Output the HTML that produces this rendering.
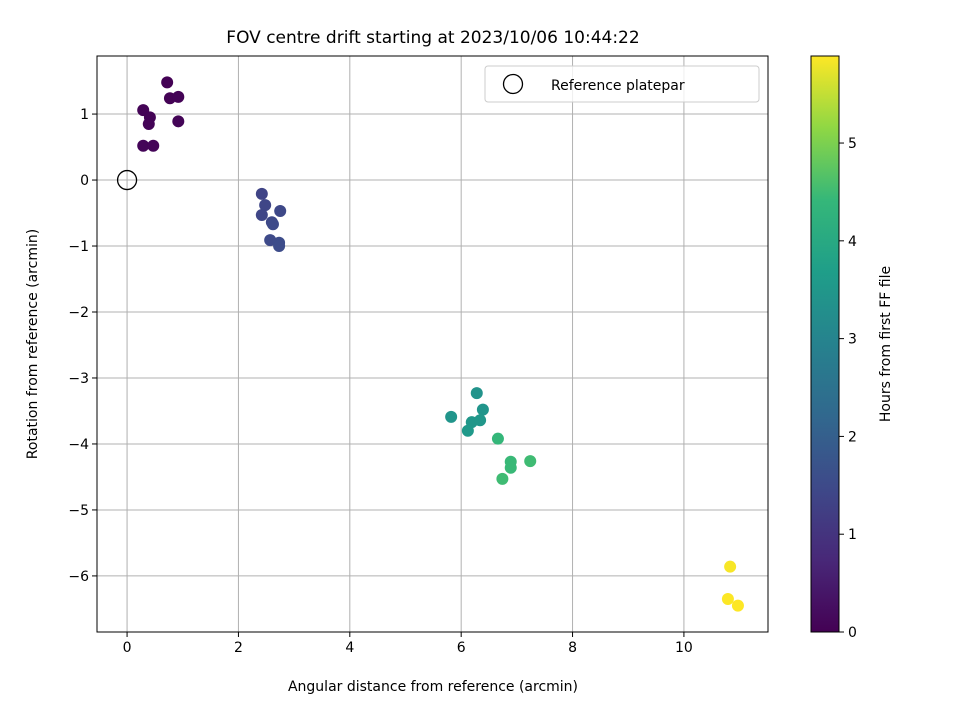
<!DOCTYPE html>
<html><head><meta charset="utf-8"><style>
body{margin:0;background:#fff;font-family:"Liberation Sans","DejaVu Sans",sans-serif}
text{font-family:"DejaVu Sans","Liberation Sans",sans-serif;fill:#000}
</style></head><body>
<svg id="chart" width="960" height="720" xmlns="http://www.w3.org/2000/svg">
<defs><linearGradient id="vir" x1="0" y1="1" x2="0" y2="0"></linearGradient></defs>
<rect width="960" height="720" fill="#fff"/>
<text x="433" y="43" text-anchor="middle" font-size="17">FOV centre drift starting at 2023/10/06 10:44:22</text>
<g id="grid"></g>
<g id="pts"></g>
<rect x="97" y="56" width="671" height="576" fill="none" stroke="#000" stroke-width="1"/>
<g id="axes"></g>
<text x="433" y="691" text-anchor="middle" font-size="14">Angular distance from reference (arcmin)</text>
<text transform="translate(37,344) rotate(-90)" text-anchor="middle" font-size="14">Rotation from reference (arcmin)</text>
<g>
<rect x="485" y="66" width="274" height="36" rx="3" fill="#fff" fill-opacity="0.8" stroke="#ccc"/>
<circle cx="513" cy="84" r="9.5" fill="none" stroke="#000" stroke-width="1.3"/>
<text x="551" y="90" font-size="14">Reference platepar</text>
</g>
<g id="cbar"></g>
<text transform="translate(890,344) rotate(-90)" text-anchor="middle" font-size="14">Hours from first FF file</text>
</svg>
<script>
const xs=[0.72,0.29,0.41,0.77,0.92,0.39,0.92,0.29,0.47, 2.42,2.48,2.42,2.75,2.6,2.62,2.57,2.73,2.73, 6.28,6.39,5.82,6.19,6.34,6.12, 6.66,6.89,6.89,7.24,6.74, 10.83,10.79,10.97];
const ys=[1.48,1.06,0.95,1.24,1.26,0.85,0.89,0.52,0.52, -0.21,-0.38,-0.53,-0.47,-0.64,-0.67,-0.91,-0.95,-1.0, -3.23,-3.48,-3.59,-3.67,-3.64,-3.8, -3.92,-4.27,-4.36,-4.26,-4.53, -5.86,-6.35,-6.45];
const hours=[0.02,0.05,0.05,0.03,0.04,0.06,0.07,0.08,0.08, 1.35,1.4,1.4,1.45,1.45,1.5,1.5,1.55,1.55, 3.4,3.45,3.45,3.5,3.5,3.55, 4.4,4.45,4.45,4.5,4.5, 5.85,5.88,5.89];
const xTicks=[0,2,4,6,8,10];
const yTicks=[1,0,-1,-2,-3,-4,-5,-6];
const cTicks=[0,1,2,3,4,5];
const NS="http://www.w3.org/2000/svg";
const X0=97,X1=768,Y0=56,Y1=632,xmin=-0.54,xmax=11.51,ymin=-6.85,ymax=1.88,cmax=5.89;
const sx=v=>X0+(v-xmin)/(xmax-xmin)*(X1-X0);
const sy=v=>Y1-(v-ymin)/(ymax-ymin)*(Y1-Y0);
const sc=v=>Y1-v/cmax*(Y1-Y0);
const stops=[[0,"#440154"],[0.125,"#482878"],[0.25,"#3e4989"],[0.375,"#31688e"],[0.5,"#26828e"],[0.625,"#1f9e89"],[0.75,"#35b779"],[0.875,"#8fd744"],[1,"#fde725"]];
function hex(h){return [1,3,5].map(i=>parseInt(h.substr(i,2),16));}
function vir(t){t=Math.max(0,Math.min(1,t));for(let i=1;i<stops.length;i++){if(t<=stops[i][0]){const a=stops[i-1],b=stops[i];const f=(t-a[0])/(b[0]-a[0]);const ca=hex(a[1]),cb=hex(b[1]);return "rgb("+ca.map((c,k)=>Math.round(c+(cb[k]-c)*f)).join(",")+")";}}return stops[stops.length-1][1];}
function mk(tag,attrs,parent){const e=document.createElementNS(NS,tag);for(const k in attrs)e.setAttribute(k,attrs[k]);parent.appendChild(e);return e;}
const grid=document.getElementById('grid'),axes=document.getElementById('axes'),pts=document.getElementById('pts'),cbar=document.getElementById('cbar');
xTicks.forEach(t=>{const x=sx(t);
 const g=mk('line',{x1:x,x2:x,y1:Y0,y2:Y1,stroke:'#b0b0b0','stroke-width':1},grid);
 mk('line',{x1:x,x2:x,y1:Y1,y2:Y1+5,stroke:'#000'},axes);
 const l=mk('text',{x:x,y:Y1+20,'text-anchor':'middle','font-size':14},axes);l.textContent=t;});
yTicks.forEach(t=>{const y=sy(t);
 const g=mk('line',{x1:X0,x2:X1,y1:y,y2:y,stroke:'#b0b0b0','stroke-width':1},grid);
 mk('line',{x1:X0-5,x2:X0,y1:y,y2:y,stroke:'#000'},axes);
 const l=mk('text',{x:X0-8,y:y+5,'text-anchor':'end','font-size':14},axes);l.textContent=t<0?'\u2212'+(-t):t;});
xs.forEach((v,i)=>{const c=mk('circle',{cx:sx(v),cy:sy(ys[i]),r:6,fill:vir(hours[i]/cmax)},pts);});
const ref=mk('circle',{cx:sx(0),cy:sy(0),r:9.5,fill:'none',stroke:'#000','stroke-width':1.3},pts);

const grad=document.getElementById('vir');stops.forEach(s=>mk('stop',{offset:s[0],'stop-color':s[1]},grad));
const cb=mk('rect',{x:811,y:Y0,width:28,height:Y1-Y0,fill:'url(#vir)',stroke:'#000','stroke-width':1},cbar);

cTicks.forEach(t=>{const y=sc(t);mk('line',{x1:839,x2:844,y1:y,y2:y,stroke:'#000'},cbar);
 const l=mk('text',{x:848,y:y+5,'font-size':14},cbar);l.textContent=t;});
</script>
</body></html>
